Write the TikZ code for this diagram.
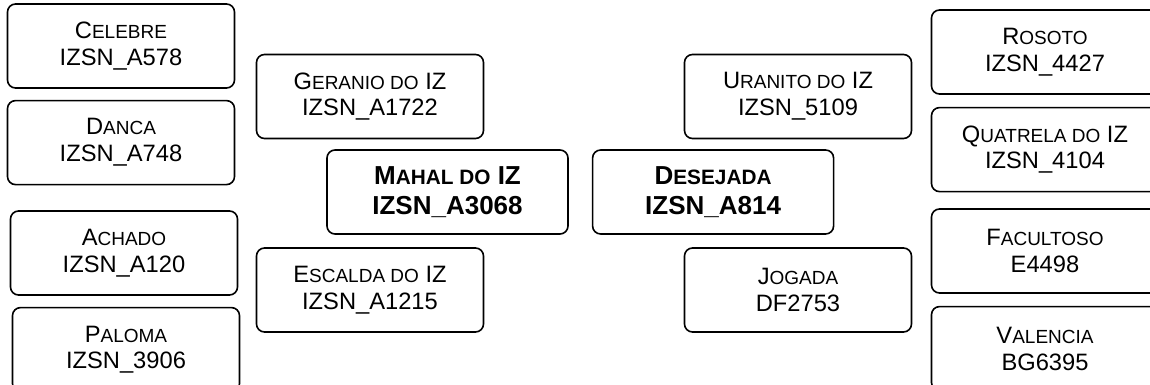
\documentclass[tikz,border=0pt]{standalone}
\usepackage{fontspec}
\setmainfont{Liberation Sans}
\usetikzlibrary{positioning}

% fake small caps: capitals at reduced size
\newcommand{\nsc}[1]{{\fontsize{9.5pt}{13.4pt}\selectfont\MakeUppercase{#1}}}
\newcommand{\bsc}[1]{{\fontsize{10.4pt}{15pt}\selectfont\MakeUppercase{#1}}}

\begin{document}
\begin{tikzpicture}[
  x=0.5pt, y=-0.5pt,
  node distance=5.5pt,
  pbox/.style={draw, rounded corners=4pt, line width=0.8pt, align=center,
    minimum width=113.5pt, minimum height=42pt, inner sep=0pt,
    font=\fontsize{11.85pt}{13.4pt}\selectfont},
  mainbox/.style={pbox, minimum width=120.5pt,
    font=\fontsize{13pt}{15pt}\selectfont\bfseries}
]
\path[use as bounding box, clip] (0,0) rectangle (1150,385);
% great-grandparents, left
\node[pbox] (celebre) at (121,46) {C\nsc{elebre}\\IZSN\_A578};
\node[pbox, below=of celebre] (danca) {D\nsc{anca}\\IZSN\_A748};
\node[pbox] (achado) at (124,253) {A\nsc{chado}\\IZSN\_A120};
\node[pbox, below=of achado, xshift=1pt] (paloma) {P\nsc{aloma}\\IZSN\_3906};
% grandparents, left
\node[pbox] (geranio) at (370,96.5) {G\nsc{eranio do} IZ\\IZSN\_A1722};
\node[pbox] (escalda) at (370,290) {E\nsc{scalda do} IZ\\IZSN\_A1215};
% parents
\node[mainbox] (mahal) at (447.5,192) {M\bsc{ahal do} IZ\\IZSN\_A3068};
\node[mainbox, right=11.5pt of mahal] (desejada) {D\bsc{esejada}\\IZSN\_A814};
% grandparents, right
\node[pbox] (uranito) at (798,96.5) {U\nsc{ranito do} IZ\\IZSN\_5109};
\node[pbox] (jogada) at (798,290) {J\nsc{ogada}\\DF2753};
% great-grandparents, right
\node[pbox] (rosoto) at (1045,52) {R\nsc{osoto}\\IZSN\_4427};
\node[pbox, below=6pt of rosoto] (quatrela) {Q\nsc{uatrela do} IZ\\IZSN\_4104};
\node[pbox] (facultoso) at (1045,251) {F\nsc{acultoso}\\E4498};
\node[pbox, below=6pt of facultoso] (valencia) {V\nsc{alencia}\\BG6395};
\end{tikzpicture}
\end{document}
